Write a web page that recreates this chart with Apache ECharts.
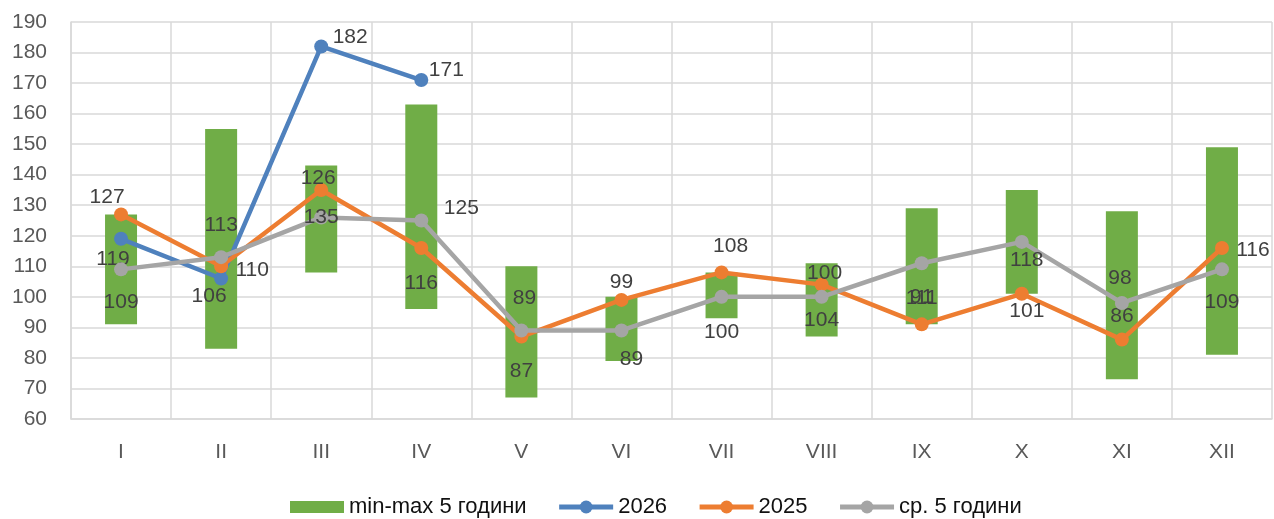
<!DOCTYPE html>
<html><head><meta charset="utf-8">
<script src="https://cdn.jsdelivr.net/npm/echarts@6/dist/echarts.min.js"></script>
<style>html,body{margin:0;padding:0;background:#fff}#c{width:1274px;height:519px}</style>
</head><body><div id="c"></div>
<script>
const categories = ['I','II','III','IV','V','VI','VII','VIII','IX','X','XI','XII'];
const minVals = [91,83,108,96,67,79,93,87,91,101,73,81];
const maxVals = [127,155,143,163,110,100,108,111,129,135,128,149];
const y2026 = [119,106,182,171];
const y2025 = [127,110,135,116,87,99,108,104,91,101,86,116];
const avg5 = [109,113,126,125,89,89,100,100,111,118,98,109];
const labels2026 = ['119','106','182','171'];
const labels2025 = ['127','110','126','116','87','99','108','100','91','101','86','116'];
const labelsAvg = ['109','113','135','125','89','89','100','104','111','118','98','109'];
const yTicks = {min:60, max:190, step:10};

// label offsets (layout only)
const off2026 = [[-8,20],[-12,18],[29,-9],[25,-10]];
const off2025 = [[-14,-17],[31,4],[-3,-12],[0,35],[0,35],[0,-18],[9,-26],[3,-11],[0,-27],[5,17],[0,-23],[31,2]];
const offAvg = [[0,33],[0,-32],[0,0],[40,-12],[3,-32],[10,29],[0,35],[0,23],[0,35],[5,18],[-2,-25],[0,33]];

const FONT = '"Liberation Sans Narrow","Arial Narrow","Liberation Sans",Arial,sans-serif';

function pts(vals, texts, offs){
  return vals.map((v,i)=>({value:v,label:{formatter:texts[i],offset:offs[i]}}));
}
const lblStyle = {show:true,position:'inside',color:'#404040',fontSize:21,fontFamily:FONT};

const chart = echarts.init(document.getElementById('c'), null, {renderer:'canvas'});
chart.setOption({
  animation:false,
  textStyle:{fontFamily:FONT},
  grid:{left:71,right:2,top:22,bottom:100,containLabel:false},
  legend:{
    left:290, top:496, padding:0, itemWidth:54, itemHeight:16, itemGap:30,
    lineStyle:{width:5},
    textStyle:{color:'#111',fontSize:22,fontFamily:FONT},
    data:[
      {name:'min-max 5 години',icon:'path://M0,2H54V14H0Z M0,0L0.01,0Z M0,16L0.01,16Z'},
      '2026','2025','ср. 5 години']
  },
  xAxis:{type:'category',data:categories,boundaryGap:true,
    axisLine:{show:true,lineStyle:{color:'#d9d9d9',width:1.5}},
    axisTick:{show:false},
    splitLine:{show:true,lineStyle:{color:'#d9d9d9',width:1.5}},
    axisLabel:{color:'#595959',fontSize:21,margin:23,fontFamily:FONT}},
  yAxis:{type:'value',min:yTicks.min,max:yTicks.max,interval:yTicks.step,
    axisLine:{show:true,lineStyle:{color:'#d9d9d9',width:1.5}},
    axisTick:{show:false},
    splitLine:{show:true,lineStyle:{color:'#d9d9d9',width:1.5}},
    axisLabel:{color:'#595959',fontSize:21,margin:24,fontFamily:FONT}},
  series:[
    {name:'base',type:'bar',stack:'mm',data:minVals,barWidth:32,
      itemStyle:{color:'rgba(0,0,0,0)'},silent:true,legendHoverLink:false},
    {name:'min-max 5 години',type:'bar',stack:'mm',data:maxVals.map((m,i)=>m-minVals[i]),barWidth:32,
      itemStyle:{color:'#70ad47'}},
    {name:'2026',type:'line',data:pts(y2026,labels2026,off2026),symbol:'circle',symbolSize:14,
      lineStyle:{color:'#4f81bd',width:4.5},itemStyle:{color:'#4f81bd'},label:lblStyle,z:3},
    {name:'2025',type:'line',data:pts(y2025,labels2025,off2025),symbol:'circle',symbolSize:14,
      lineStyle:{color:'#ed7d31',width:4.5},itemStyle:{color:'#ed7d31'},label:lblStyle,z:4},
    {name:'ср. 5 години',type:'line',data:pts(avg5,labelsAvg,offAvg),symbol:'circle',symbolSize:14,
      lineStyle:{color:'#a5a5a5',width:4.5},itemStyle:{color:'#a5a5a5'},label:lblStyle,z:5}
  ]
});
</script></body></html>
